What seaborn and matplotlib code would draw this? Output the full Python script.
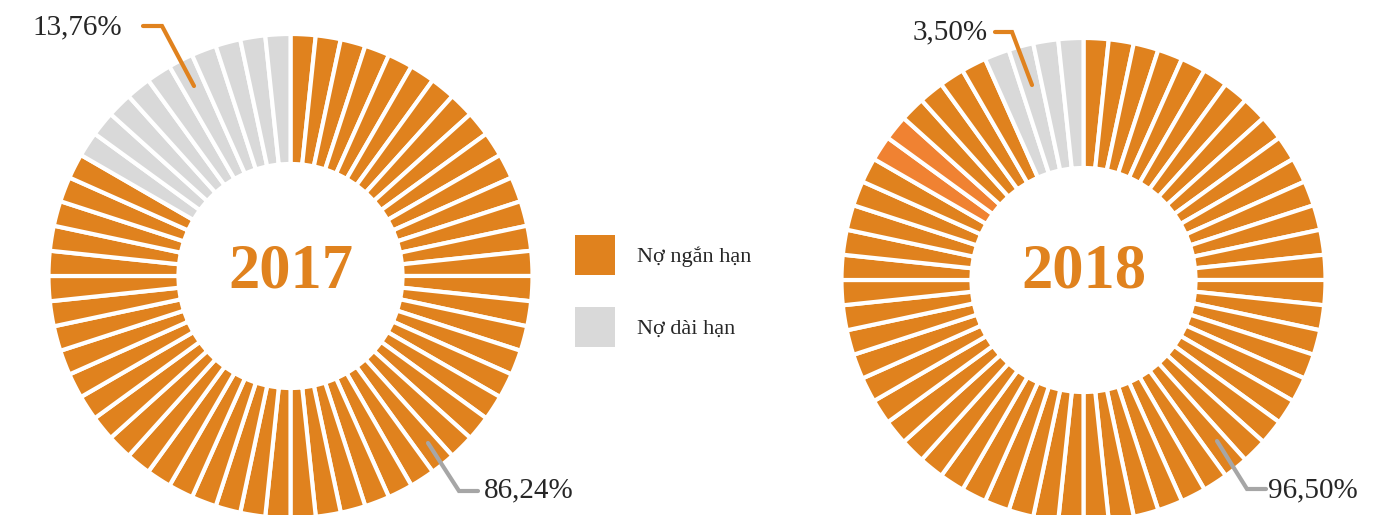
import matplotlib
matplotlib.use("Agg")
import matplotlib.pyplot as plt
from matplotlib.patches import Patch
import seaborn as sns

# Dữ liệu
years = ["2017", "2018"]
short_term_pct = ["86,24%", "96,50%"]
long_term_pct = ["13,76%", "3,50%"]
legend_labels = ["Nợ ngắn hạn", "Nợ dài hạn"]
n_segments = 60
gray_segments = [10, 4]          # số ô xám (nợ dài hạn) trên mỗi vòng
highlight_segments = [[], [50, 51]]  # ô màu cam sáng (2018)

ORANGE = "#E0821E"
LIGHT_ORANGE = "#F08232"
GRAY = "#D9D9D9"
LINE_GRAY = "#A6A6A6"

sns.set_theme(style="white")
plt.rcParams["font.family"] = ["Liberation Serif", "DejaVu Serif"]

W, H = 1395, 515
fig = plt.figure(figsize=(W / 100, H / 100), dpi=100)
ax = fig.add_axes([0, 0, 1, 1])

centers = [(290.5, H - 276), (1083.5, H - 280)]
R_OUT, R_IN = 242, 112

for i, year in enumerate(years):
    colors = []
    for k in range(n_segments):
        if k >= n_segments - gray_segments[i]:
            colors.append(GRAY)
        elif k in highlight_segments[i]:
            colors.append(LIGHT_ORANGE)
        else:
            colors.append(ORANGE)
    ax.pie([1] * n_segments, colors=colors, startangle=90, counterclock=False,
           center=centers[i], radius=R_OUT, frame=True,
           wedgeprops=dict(width=R_OUT - R_IN, edgecolor="white", linewidth=3))
    ax.text(centers[i][0], H - 272, year, ha="center", va="center",
            fontsize=45, fontweight="bold", color=ORANGE)

# Đường dẫn và nhãn phần trăm
ax.plot([194, 162, 143], [H - 86, H - 26, H - 26], color=ORANGE, lw=3,
        solid_joinstyle="miter")
ax.text(122, H - 27, long_term_pct[0], ha="right", va="center", fontsize=21)
ax.plot([428, 459, 478], [H - 443, H - 491, H - 491], color=LINE_GRAY, lw=3,
        solid_joinstyle="miter")
ax.text(484, H - 490, short_term_pct[0], ha="left", va="center", fontsize=21)

ax.plot([1032, 1012, 995], [H - 85, H - 32, H - 32], color=ORANGE, lw=3,
        solid_joinstyle="miter")
ax.text(988, H - 32, long_term_pct[1], ha="right", va="center", fontsize=21)
ax.plot([1217, 1247, 1266], [H - 441, H - 489, H - 489], color=LINE_GRAY, lw=3,
        solid_joinstyle="miter")
ax.text(1268, H - 490, short_term_pct[1], ha="left", va="center", fontsize=21)

handles = [Patch(facecolor=ORANGE, edgecolor="none"),
           Patch(facecolor=GRAY, edgecolor="none")]
ax.legend(handles, legend_labels, loc="upper left",
          bbox_to_anchor=(575 / W, (H - 235) / H), frameon=False,
          fontsize=16, handlelength=1.8, handleheight=2.39,
          labelspacing=1.45, handletextpad=1.0, borderpad=0, borderaxespad=0)

ax.set_xlim(0, W)
ax.set_ylim(0, H)
ax.set_aspect("equal")
ax.axis("off")

fig.savefig("out.png", dpi=100)
